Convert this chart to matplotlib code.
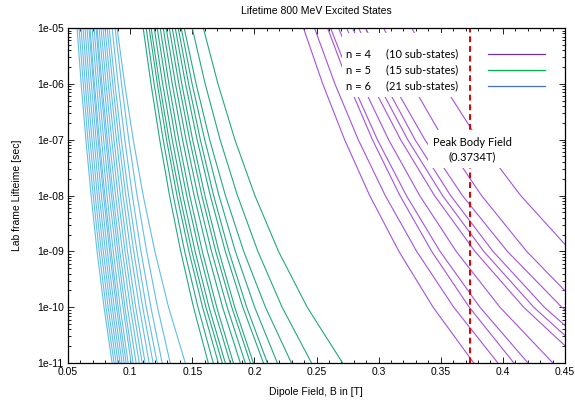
import numpy as np
import matplotlib.pyplot as plt
from matplotlib.ticker import MultipleLocator, LogLocator, FuncFormatter, NullFormatter
from matplotlib.patches import Rectangle

# lifetime levels (sec) at which the field of every curve was read
lifetimes = [1e-5, 1e-6, 1e-7, 1e-8, 1e-9, 1e-10, 1e-11]

# n = 6 sub-states: dipole field B [T] at each lifetime level
n6_fields = [
    [.0573, .0606, .0644, .0686, .0734, .0790, .0855],
    [.0589, .0623, .0660, .0703, .0751, .0806, .0871],
    [.0605, .0639, .0677, .0719, .0768, .0823, .0887],
    [.0621, .0655, .0693, .0736, .0784, .0840, .0903],
    [.0637, .0671, .0710, .0752, .0801, .0856, .0919],
    [.0653, .0688, .0726, .0769, .0817, .0872, .0935],
    [.0669, .0704, .0742, .0786, .0835, .0890, .0952],
    [.0677, .0713, .0752, .0797, .0847, .0903, .0968],
    [.0694, .0730, .0770, .0814, .0864, .0920, .0984],
    [.0710, .0747, .0787, .0833, .0884, .0943, .1008],
    [.0726, .0763, .0804, .0850, .0901, .0958, .1024],
    [.0734, .0773, .0816, .0864, .0917, .0978, .1048],
    [.0750, .0790, .0833, .0883, .0938, .1001, .1073],
    [.0766, .0806, .0852, .0902, .0959, .1023, .1097],
    [.0782, .0824, .0870, .0922, .0979, .1045, .1121],
    [.0798, .0841, .0890, .0943, .1004, .1074, .1153],
    [.0815, .0860, .0909, .0965, .1029, .1101, .1185],
    [.0831, .0878, .0929, .0988, .1055, .1130, .1218],
    [.0855, .0903, .0957, .1018, .1087, .1167, .1258],
    [.0879, .0931, .0989, .1056, .1133, .1220, .1323],
    [.0895, .0956, .1025, .1105, .1199, .1309, .1444],
]

# n = 5 sub-states
n5_fields = [
    [.1105, .1168, .1238, .1317, .1407, .1510, .1629],
    [.1129, .1193, .1266, .1347, .1439, .1546, .1669],
    [.1153, .1219, .1293, .1377, .1473, .1583, .1710],
    [.1169, .1237, .1313, .1399, .1497, .1610, .1742],
    [.1194, .1262, .1339, .1425, .1523, .1635, .1766],
    [.1218, .1288, .1366, .1455, .1556, .1671, .1806],
    [.1242, .1312, .1391, .1480, .1581, .1697, .1831],
    [.1266, .1339, .1422, .1515, .1622, .1744, .1887],
    [.1290, .1365, .1450, .1545, .1655, .1781, .1927],
    [.1315, .1392, .1479, .1577, .1689, .1818, .1968],
    [.1339, .1416, .1503, .1602, .1714, .1842, .1992],
    [.1363, .1446, .1539, .1645, .1766, .1907, .2073],
    [.1387, .1471, .1565, .1672, .1795, .1938, .2105],
    [.1411, .1499, .1600, .1715, .1847, .2002, .2185],
    [.1435, .1531, .1640, .1767, .1914, .2089, .2298],
    [.1500, .1604, .1724, .1864, .2028, .2223, .2460],
    [.1589, .1707, .1843, .2004, .2194, .2425, .2710],
]

# n = 4 sub-states
n4_fields = [
    [.2395, .2550, .2726, .2928, .3163, .3438, .3766],
    [.2484, .2648, .2836, .3053, .3306, .3604, .3960],
    [.2589, .2758, .2950, .3171, .3427, .3729, .4089],
    [.2613, .2789, .2990, .3223, .3494, .3815, .4202],
    [.2677, .2865, .3080, .3330, .3624, .3976, .4403],
    [.2742, .2943, .3177, .3449, .3775, .4167, .4649],
    [.2790, .2996, .3234, .3514, .3846, .4248, .4744],
    [.2839, .3050, .3293, .3579, .3920, .4333, .4843],
    [.2895, .3115, .3372, .3674, .4036, .4474, .5023],
    [.3040, .3265, .3524, .3828, .4191, .4628, .5168],
    [.3266, .3514, .3802, .4143, .4550, .5045, .5663],
]

peak_field = 0.3734
legend_rows = [("n = 4", "(10 sub-states)", "#7030a0"),
               ("n = 5", "(15 sub-states)", "#00b050"),
               ("n = 6", "(21 sub-states)", "#4472c4")]

W, H = 575, 407
fig = plt.figure(figsize=(W / 100, H / 100), dpi=100)
ax = fig.add_axes([68 / W, 1 - 363 / H, 497 / W, 335 / H])

font = "Liberation Sans"

for f in n6_fields:
    ax.plot(f, lifetimes, color="#62bdea", lw=0.8, zorder=2)
for f in n5_fields:
    ax.plot(f, lifetimes, color="#23a883", lw=0.8, zorder=2)
for f in n4_fields:
    ax.plot(f, lifetimes, color="#a651e0", lw=0.8, zorder=2)

ax.axvline(peak_field, color="#e00000", lw=1.4, ls=(0, (3, 2)), zorder=2)

ax.set_yscale("log")
ax.set_xlim(0.05, 0.45)
ax.set_ylim(1e-11, 1e-5)

ax.xaxis.set_major_locator(MultipleLocator(0.05))
ax.xaxis.set_minor_locator(MultipleLocator(0.01))
ax.xaxis.set_major_formatter(FuncFormatter(lambda v, p: "%g" % round(v, 3)))
ax.yaxis.set_major_locator(LogLocator(base=10, numticks=10))
ax.yaxis.set_minor_locator(LogLocator(base=10, subs=np.arange(2, 10), numticks=10))
ax.yaxis.set_major_formatter(FuncFormatter(lambda v, p: "%.0e" % v))
ax.yaxis.set_minor_formatter(NullFormatter())

ax.tick_params(which="both", direction="in", top=True, right=True, width=0.6,
               labelsize=7.5, pad=3)
ax.tick_params(which="major", length=4)
ax.tick_params(which="minor", length=2)
for lab in ax.get_xticklabels() + ax.get_yticklabels():
    lab.set_fontfamily(font)
for s in ax.spines.values():
    s.set_linewidth(0.9)

# white boxes behind the annotations hide the curves there
ax.add_patch(Rectangle((0.551, 0.794), 0.25, 0.191, transform=ax.transAxes,
                       facecolor="white", edgecolor="none", zorder=3))
ax.add_patch(Rectangle((0.724, 0.582), 0.175, 0.114, transform=ax.transAxes,
                       facecolor="white", edgecolor="none", zorder=3))

for i, (n, sub, c) in enumerate(legend_rows):
    y = 1 - (54 + 16 * i) / H
    fig.text(346 / W, y, n, fontsize=8, family="Lato", va="center", zorder=5)
    fig.text(386 / W, y, sub, fontsize=8, family="Lato", va="center", zorder=5)
    fig.add_artist(plt.Line2D([488 / W, 545 / W], [y, y], color=c, lw=0.9))

fig.text(472 / W, 1 - 142 / H, "Peak Body Field", fontsize=8, family="Lato",
         ha="center", va="center")
fig.text(472 / W, 1 - 157 / H, "(0.3734T)", fontsize=8, family="Lato",
         ha="center", va="center")

fig.text(316 / W, 1 - 11 / H, "Lifetime 800 MeV Excited States", fontsize=7.5,
         family=font, ha="center", va="center")
fig.text(316 / W, 1 - 392 / H, "Dipole Field, B in [T]", fontsize=7.5,
         family=font, ha="center", va="center")
fig.text(17 / W, 1 - 195 / H, "Lab frame Lifteime [sec]", fontsize=7.5,
         family=font, ha="center", va="center", rotation=90)

fig.savefig("out.png", dpi=100, facecolor="white")
